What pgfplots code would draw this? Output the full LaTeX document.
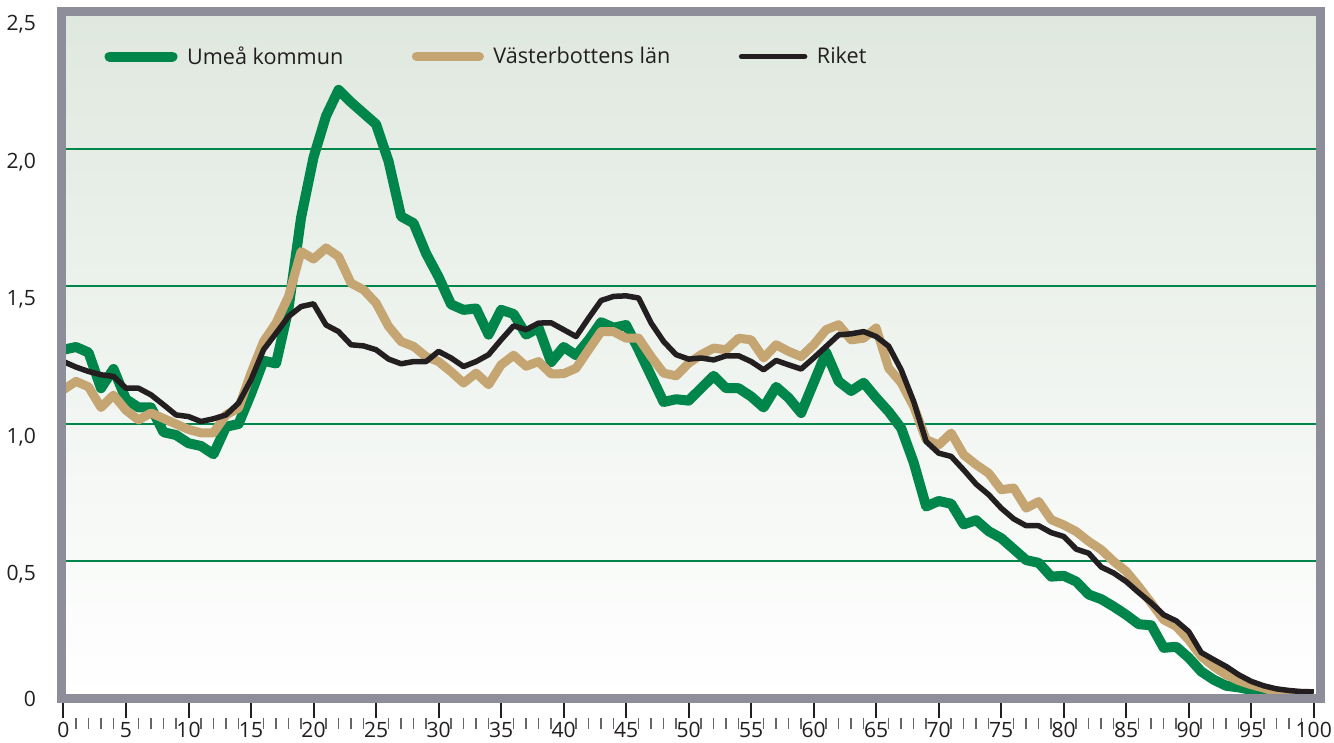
\documentclass[border=0pt]{standalone}
\usepackage{fontspec}
\setmainfont{Open Sans}
\usepackage{pgfplots}
\usepackage{pgfplotstable}
\pgfplotsset{compat=1.18}

\definecolor{ume}{HTML}{00854A}
\definecolor{vbn}{HTML}{C5A572}
\definecolor{riket}{HTML}{231F20}
\definecolor{ramgra}{HTML}{8E8D9A}
\definecolor{bgtop}{HTML}{DFE8DF}

% andel per ålder: Umeå kommun, Västerbottens län, riket
\pgfplotstableread{
age ume vbn riket
0 1.27 1.125 1.227
1 1.28 1.155 1.207
2 1.26 1.135 1.191
3 1.13 1.06 1.179
4 1.20 1.105 1.173
5 1.09 1.05 1.13
6 1.06 1.015 1.13
7 1.06 1.04 1.106
8 0.97 1.02 1.07
9 0.96 1.00 1.033
10 0.93 0.98 1.027
11 0.92 0.968 1.009
12 0.89 0.968 1.019
13 0.99 1.033 1.033
14 1.00 1.058 1.076
15 1.11 1.185 1.161
16 1.23 1.30 1.27
17 1.22 1.367 1.33
18 1.42 1.464 1.391
19 1.75 1.627 1.427
20 1.97 1.60 1.437
21 2.12 1.64 1.36
22 2.215 1.609 1.336
23 2.17 1.512 1.288
24 2.13 1.488 1.284
25 2.09 1.44 1.27
26 1.955 1.355 1.236
27 1.755 1.30 1.219
28 1.73 1.282 1.227
29 1.62 1.245 1.227
30 1.535 1.227 1.264
31 1.435 1.19 1.24
32 1.415 1.149 1.209
33 1.42 1.185 1.227
34 1.325 1.143 1.252
35 1.415 1.215 1.306
36 1.40 1.25 1.357
37 1.325 1.21 1.343
38 1.35 1.227 1.367
39 1.225 1.182 1.368
40 1.28 1.183 1.343
41 1.25 1.203 1.318
42 1.305 1.27 1.385
43 1.37 1.336 1.449
44 1.35 1.336 1.464
45 1.36 1.312 1.466
46 1.27 1.312 1.458
47 1.175 1.245 1.367
48 1.08 1.185 1.30
49 1.09 1.175 1.252
50 1.085 1.221 1.236
51 1.13 1.252 1.24
52 1.175 1.276 1.233
53 1.13 1.27 1.248
54 1.13 1.312 1.248
55 1.10 1.306 1.227
56 1.06 1.24 1.197
57 1.135 1.288 1.231
58 1.095 1.264 1.215
59 1.04 1.245 1.20
60 1.15 1.288 1.24
61 1.26 1.343 1.282
62 1.155 1.361 1.324
63 1.12 1.306 1.328
64 1.15 1.312 1.336
65 1.095 1.349 1.318
66 1.045 1.203 1.283
67 0.985 1.15 1.197
68 0.86 1.064 1.082
69 0.70 0.943 0.936
70 0.72 0.924 0.894
71 0.71 0.967 0.882
72 0.635 0.888 0.833
73 0.65 0.852 0.781
74 0.61 0.821 0.743
75 0.585 0.761 0.694
76 0.545 0.767 0.655
77 0.505 0.694 0.63
78 0.495 0.718 0.63
79 0.445 0.652 0.605
80 0.448 0.633 0.591
81 0.427 0.609 0.545
82 0.38 0.573 0.53
83 0.363 0.543 0.48
84 0.336 0.50 0.458
85 0.306 0.464 0.427
86 0.272 0.409 0.387
87 0.268 0.349 0.349
88 0.186 0.288 0.306
89 0.19 0.264 0.284
90 0.15 0.215 0.245
91 0.10 0.155 0.169
92 0.07 0.118 0.143
93 0.048 0.088 0.118
94 0.042 0.067 0.088
95 0.033 0.052 0.064
96 0.025 0.04 0.048
97 0.015 0.025 0.037
98 0.008 0.015 0.031
99 0.0 0.0 0.027
100 0.005 0.01 0.026
}\data

\begin{document}
\begin{tikzpicture}
\path[use as bounding box] (-1.22cm,-0.87cm) rectangle (25.46cm,13.98cm);
\begin{axis}[
  scale only axis, width=25.18cm, height=13.75cm,
  xmin=-0.2, xmax=100.5, ymin=0, ymax=2.5,
  font=\fontsize{12}{14}\selectfont,
  axis line style={draw=none},
  axis background/.style={top color=bgtop, bottom color=white},
  xtick={0,5,...,100}, minor x tick num=4,
  ytick={0.5,1,...,2.5},
  extra y ticks={0}, extra y tick labels={0},
  extra y tick style={grid=none, yticklabel style={yshift=0.26cm}},
  tick align=inside,
  major tick length=0.38cm, minor tick length=0.22cm,
  xtick style={riket, line width=0.04cm, yshift=-0.38cm},
  minor x tick style={black!60, line width=0.03cm, yshift=-0.22cm},
  ytick style={draw=none},
  xtick pos=bottom, ytick pos=left,
  ymajorgrids, major grid style={ume, line width=0.04cm},
  tick label style={riket, inner sep=1pt},
  xticklabel style={yshift=-0.42cm},
  yticklabel style={yshift=-0.26cm, xshift=-0.46cm},
  y tick label style={/pgf/number format/fixed, /pgf/number format/fixed zerofill,
    /pgf/number format/precision=1, /pgf/number format/use comma},
  /pgf/number format/assume math mode=true,
  legend style={draw=none, fill=none, at={(axis description cs:0.0301,0.9345)}, anchor=west,
    legend columns=3, font=\fontsize{12.3}{14}\selectfont, text=riket,
    /tikz/every odd column/.append style={column sep=0.12cm},
    /tikz/every even column/.append style={column sep=1.3cm}},
  legend image code/.code={\draw[#1, line cap=round] (0cm,0cm) -- (1.26cm,0cm);},
  every axis plot/.append style={line join=round},
]
\addplot[ume, line width=0.2cm] table[x=age, y=ume] {\data};
\addlegendentry{Umeå kommun}
\addplot[vbn, line width=0.18cm] table[x=age, y=vbn] {\data};
\addlegendentry{Västerbottens län}
\addplot[riket, line width=0.11cm] table[x=age, y=riket] {\data};
\addlegendentry{Riket}
\end{axis}
\draw[ramgra, line width=0.18cm, line join=miter] (current axis.south west) rectangle (current axis.north east);
\end{tikzpicture}
\end{document}
